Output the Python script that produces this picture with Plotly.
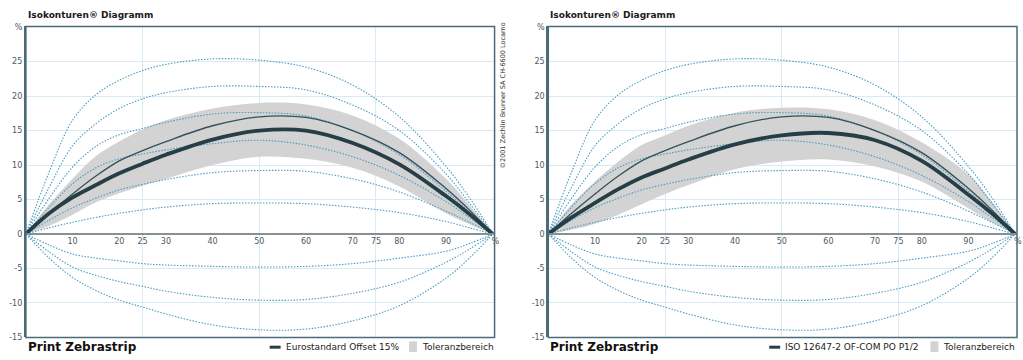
import plotly.graph_objects as go

# ---------------- data ----------------
x_pct = [0, 5, 10, 15, 20, 25, 30, 40, 50, 60, 70, 80, 90, 95, 100]

iso_a = [0, 9.0, 16.5, 20.2, 22.3, 23.7, 24.6, 25.4, 25.2, 24.2, 21.6, 17.0, 9.8, 5.3, 0]
iso_b = [0, 6.8, 12.8, 16.0, 18.2, 19.6, 20.5, 21.4, 21.4, 20.9, 18.7, 15.0, 8.7, 4.5, 0]
iso_c = [0, 5.2, 9.7, 12.7, 14.4, 15.3, 16.2, 17.4, 17.6, 17.1, 15.0, 11.5, 6.2, 3.2, 0]
iso_d = [0, 3.9, 7.3, 9.6, 10.9, 11.6, 12.2, 13.1, 13.6, 12.9, 11.2, 8.5, 4.7, 2.4, 0]
iso_e = [0, 2.0, 3.8, 5.2, 6.4, 7.2, 7.9, 8.9, 9.2, 9.1, 8.0, 6.1, 3.3, 1.7, 0]
iso_f = [0, 0.9, 1.7, 2.4, 3.0, 3.5, 3.9, 4.4, 4.5, 4.4, 3.9, 3.1, 1.8, 0.9, 0]
iso_n1 = [0, -1.6, -2.9, -3.5, -3.9, -4.3, -4.5, -4.7, -4.8, -4.7, -4.3, -3.5, -2.5, -1.4, 0]
iso_n2 = [0, -2.6, -4.8, -6.0, -6.9, -7.6, -8.3, -9.2, -9.6, -9.5, -8.6, -7.0, -4.1, -2.2, 0]
iso_n3 = [0, -3.5, -6.3, -8.2, -9.6, -10.6, -11.6, -13.2, -13.9, -13.8, -12.6, -10.4, -6.4, -3.5, 0]
isocontours = [iso_a, iso_b, iso_c, iso_d, iso_e, iso_f, iso_n1, iso_n2, iso_n3]

thin_ref = [0, 3.0, 5.8, 8.4, 10.6, 12.1, 13.4, 15.7, 17.0, 16.9, 15.0, 11.8, 6.6, 3.5, 0]

euro_main = [0, 3.0, 5.3, 7.1, 8.8, 10.2, 11.5, 13.7, 15.0, 15.0, 13.2, 10.1, 5.5, 2.9, 0]
euro_upper = [0, 4.3, 8.0, 11.3, 13.4, 15.2, 16.5, 18.2, 19.0, 18.8, 17.2, 13.8, 8.0, 4.2, 0]
euro_lower = [0, 1.2, 2.8, 4.6, 5.9, 7.0, 8.0, 10.0, 11.2, 10.9, 9.6, 6.9, 3.0, 1.4, 0]

iso_main = [0, 2.4, 4.5, 6.5, 8.2, 9.5, 10.8, 13.0, 14.3, 14.65, 13.6, 10.6, 5.7, 3.0, 0]
iso_upper = [0, 4.3, 7.6, 10.5, 12.9, 14.3, 15.7, 17.6, 18.3, 18.1, 16.5, 13.3, 8.6, 4.7, 0]
iso_lower = [0, 0.6, 1.5, 2.8, 4.3, 5.8, 7.1, 9.4, 10.5, 10.8, 9.8, 7.6, 3.7, 1.7, 0]

x_tickvals = [10, 20, 25, 30, 40, 50, 60, 70, 75, 80, 90, 100]
x_ticktext = ["10", "20", "25", "30", "40", "50", "60", "70", "75", "80", "90", "  %"]
y_tickvals = [-15, -10, -5, 0, 5, 10, 15, 20, 25, 30]
y_ticktext = ["-15", "-10", "-5", "0", "5", "10", "15", "20", "25", "%"]

panel_names = ["Eurostandard Offset 15%", "ISO 12647-2 OF-COM PO P1/2"]
band_name = "Toleranzbereich"
chart_title = "Isokonturen® Diagramm"
footer_title = "Print Zebrastrip"
copyright_text = "©2001 Zechlin Brunner SA CH-6600 Locarno"

# ---------------- styles ----------------
DOT = "#4a9cc2"
DARK = "#263f47"
THIN = "#33505a"
BAND = "#d3d3d3"
FRAME = "#4b6b78"
GRID = "#d8eaf3"
TICK = "#4a5a66"
FONT = "DejaVu Sans"
W, H = 1023, 360

fig = go.Figure()

panels = [
    ("x", "y", euro_main, euro_upper, euro_lower),
    ("x2", "y2", iso_main, iso_upper, iso_lower),
]

for i, (xa, ya, main, upper, lower) in enumerate(panels):
    fig.add_trace(go.Scatter(x=x_pct, y=lower, xaxis=xa, yaxis=ya, mode="lines",
                             line=dict(width=0, shape="spline", color=BAND),
                             showlegend=False, hoverinfo="skip"))
    fig.add_trace(go.Scatter(x=x_pct, y=upper, xaxis=xa, yaxis=ya, mode="lines",
                             line=dict(width=0, shape="spline", color=BAND),
                             fill="tonexty", fillcolor=BAND, name=band_name,
                             showlegend=False, hoverinfo="skip"))
    for c in isocontours:
        fig.add_trace(go.Scatter(x=x_pct, y=c, xaxis=xa, yaxis=ya, mode="lines",
                                 line=dict(color=DOT, width=1.1, dash="1.5px,1.5px", shape="spline"),
                                 showlegend=False, hoverinfo="skip"))
    fig.add_trace(go.Scatter(x=x_pct, y=thin_ref, xaxis=xa, yaxis=ya, mode="lines",
                             line=dict(color=THIN, width=1.3, shape="spline"),
                             showlegend=False, hoverinfo="skip"))
    fig.add_trace(go.Scatter(x=x_pct, y=main, xaxis=xa, yaxis=ya, mode="lines",
                             line=dict(color=DARK, width=3.8, shape="spline"),
                             name=panel_names[i], showlegend=False))

x_domains = [[26 / W, 497 / W], [551 / W, 1022 / W]]
y_domain = [1 - 342 / H, 1 - 24 / H]
zero_pos = 1 - 236 / H

for i, key in enumerate(["", "2"]):
    fig.layout["xaxis" + key] = dict(
        domain=x_domains[i], range=[0, 100.4], anchor="free", position=zero_pos,
        tickvals=x_tickvals, ticktext=x_ticktext, ticks="", showgrid=False,
        minor=dict(tickvals=[25, 50, 75], showgrid=True, gridcolor=GRID, gridwidth=1, ticks=""),
        showline=True, linecolor="#8a8f92", linewidth=2, zeroline=False,
        tickfont=dict(family=FONT, size=8, color=TICK), fixedrange=True)
    fig.layout["yaxis" + key] = dict(
        domain=y_domain, range=[-15, 30.1], anchor="x" + key,
        tickvals=y_tickvals, ticktext=y_ticktext, ticks="",
        showgrid=True, gridcolor=GRID, gridwidth=1, zeroline=False,
        showline=True, linecolor=FRAME, linewidth=2,
        tickfont=dict(family=FONT, size=8, color=TICK), fixedrange=True)

shapes = []
for key in ["x", "x2"]:
    ykey = "y" if key == "x" else "y2"
    shapes.append(dict(type="rect", xref=key + " domain", yref=ykey + " domain",
                       x0=0, x1=1, y0=0, y1=1, line=dict(color=FRAME, width=1.5),
                       layer="above"))

annotations = []
for xd in x_domains:
    annotations.append(dict(text="<b>" + chart_title + "</b>", xref="paper", yref="paper",
                            x=xd[0], y=1 - 12 / H, xanchor="left", yanchor="middle",
                            showarrow=False, font=dict(family=FONT, size=9, color="#1a1a1a")))
    annotations.append(dict(text="<b>" + footer_title + "</b>", xref="paper", yref="paper",
                            x=xd[0], y=1 - 352 / H, xanchor="left", yanchor="middle",
                            showarrow=False, font=dict(family=FONT, size=12, color="#111111")))
annotations.append(dict(text=copyright_text, xref="paper", yref="paper",
                        x=505 / W, y=1 - 95 / H, textangle=-90,
                        xanchor="center", yanchor="middle", showarrow=False,
                        font=dict(family=FONT, size=6.5, color="#333333")))

# legend (line sample + band swatch + labels) for each panel
legend_pos = [(271, 411), (773, 935)]
ly = 1 - 352 / H
for i, (lx, bx) in enumerate(legend_pos):
    shapes.append(dict(type="line", xref="paper", yref="paper",
                       x0=lx / W, x1=(lx + 11) / W, y0=ly, y1=ly,
                       line=dict(color=DARK, width=3)))
    shapes.append(dict(type="rect", xref="paper", yref="paper",
                       x0=bx / W, x1=(bx + 8) / W, y0=1 - 357 / H, y1=1 - 346 / H,
                       line=dict(width=0), fillcolor=BAND))
    annotations.append(dict(text=panel_names[i], xref="paper", yref="paper",
                            x=(lx + 14) / W, y=ly, xanchor="left", yanchor="middle",
                            showarrow=False, font=dict(family=FONT, size=9, color="#222222")))
    annotations.append(dict(text=band_name, xref="paper", yref="paper",
                            x=(bx + 11) / W, y=ly, xanchor="left", yanchor="middle",
                            showarrow=False, font=dict(family=FONT, size=9, color="#222222")))

fig.update_layout(
    width=W, height=H, margin=dict(l=0, r=0, t=0, b=0),
    paper_bgcolor="white", plot_bgcolor="white",
    shapes=shapes, annotations=annotations, showlegend=False,
    font=dict(family=FONT),
)

fig.write_html("out.html", config={"displayModeBar": False},
               post_script="document.body.style.margin='0';")
